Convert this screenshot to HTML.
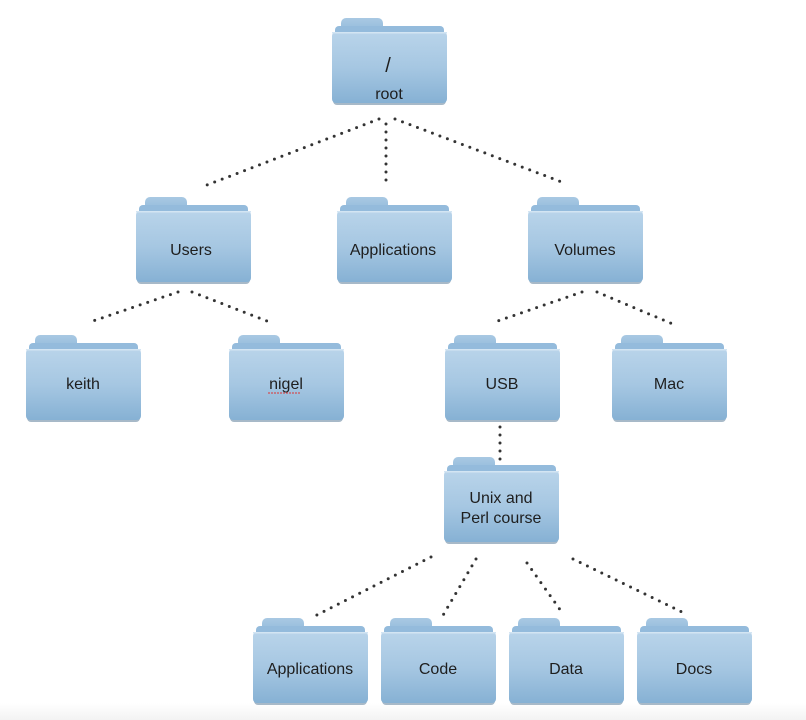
<!DOCTYPE html>
<html><head><meta charset="utf-8"><style>
html,body{margin:0;padding:0;background:#fff;width:806px;height:720px;overflow:hidden}
text{font-family:"Liberation Sans",sans-serif;font-size:16px;fill:#1e1e1e;text-anchor:middle}
</style></head><body>
<svg width="806" height="720" viewBox="0 0 806 720" xmlns="http://www.w3.org/2000/svg">
<defs>
<linearGradient id="bg" x1="0" y1="0" x2="0" y2="1"><stop offset="0" stop-color="#fff"/><stop offset="1" stop-color="#f3f3f3"/></linearGradient>
<linearGradient id="fr" x1="0" y1="0" x2="0" y2="1"><stop offset="0" stop-color="#b9d4ea"/><stop offset="0.5" stop-color="#a6c7e2"/><stop offset="1" stop-color="#86b1d4"/></linearGradient>
<linearGradient id="tb" x1="0" y1="0" x2="0" y2="1"><stop offset="0" stop-color="#a9c9e3"/><stop offset="1" stop-color="#8fb8da"/></linearGradient>
<symbol id="f" viewBox="0 0 115 86" width="115" height="86" overflow="visible">
<rect x="9" y="0" width="42" height="16" rx="5" fill="url(#tb)"/>
<rect x="3" y="8" width="109" height="20" rx="4" fill="#94bbdc"/>
<rect x="1" y="16" width="113" height="71" rx="4" fill="#5f7f9a" opacity="0.55"/>
<rect x="0" y="14" width="115" height="71" rx="4" fill="url(#fr)"/>
<rect x="0" y="14" width="115" height="1.5" fill="#d3e5f3"/>
</symbol>
</defs>
<rect x="0" y="703" width="806" height="17" fill="url(#bg)"/>
<g stroke="#333" stroke-width="3" stroke-linecap="round" stroke-dasharray="0 8" fill="none">
<line x1="379" y1="119" x2="207" y2="185"/>
<line x1="386" y1="124" x2="386" y2="184"/>
<line x1="395" y1="119" x2="567" y2="184"/>
<line x1="178" y1="292" x2="90" y2="322"/>
<line x1="192" y1="292" x2="272" y2="323"/>
<line x1="582" y1="292" x2="492" y2="323"/>
<line x1="597" y1="292" x2="675" y2="325"/>
<line x1="500" y1="427" x2="500" y2="462"/>
<line x1="431" y1="557" x2="311" y2="618"/>
<line x1="476" y1="559" x2="442" y2="617"/>
<line x1="527" y1="563" x2="561" y2="611"/>
<line x1="573" y1="559" x2="686" y2="614"/>
</g>
<use href="#f" x="332" y="18"/>
<use href="#f" x="136" y="197"/>
<use href="#f" x="337" y="197"/>
<use href="#f" x="528" y="197"/>
<use href="#f" x="26" y="335"/>
<use href="#f" x="229" y="335"/>
<use href="#f" x="445" y="335"/>
<use href="#f" x="612" y="335"/>
<use href="#f" x="444" y="457"/>
<use href="#f" x="253" y="618"/>
<use href="#f" x="381" y="618"/>
<use href="#f" x="509" y="618"/>
<use href="#f" x="637" y="618"/>
<text x="388" y="72" style="font-size:20px">/</text>
<text x="389" y="99">root</text>
<text x="191" y="255">Users</text>
<text x="393" y="255">Applications</text>
<text x="585" y="255">Volumes</text>
<text x="83" y="389">keith</text>
<text x="286" y="389">nigel</text>
<line x1="268" y1="393" x2="300" y2="393" stroke="#d33" stroke-width="1" stroke-dasharray="2 1"/>
<text x="502" y="389">USB</text>
<text x="669" y="389">Mac</text>
<text x="501" y="503">Unix and</text>
<text x="501" y="523">Perl course</text>
<text x="310" y="674">Applications</text>
<text x="438" y="674">Code</text>
<text x="566" y="674">Data</text>
<text x="694" y="674">Docs</text>
</svg>
</body></html>
